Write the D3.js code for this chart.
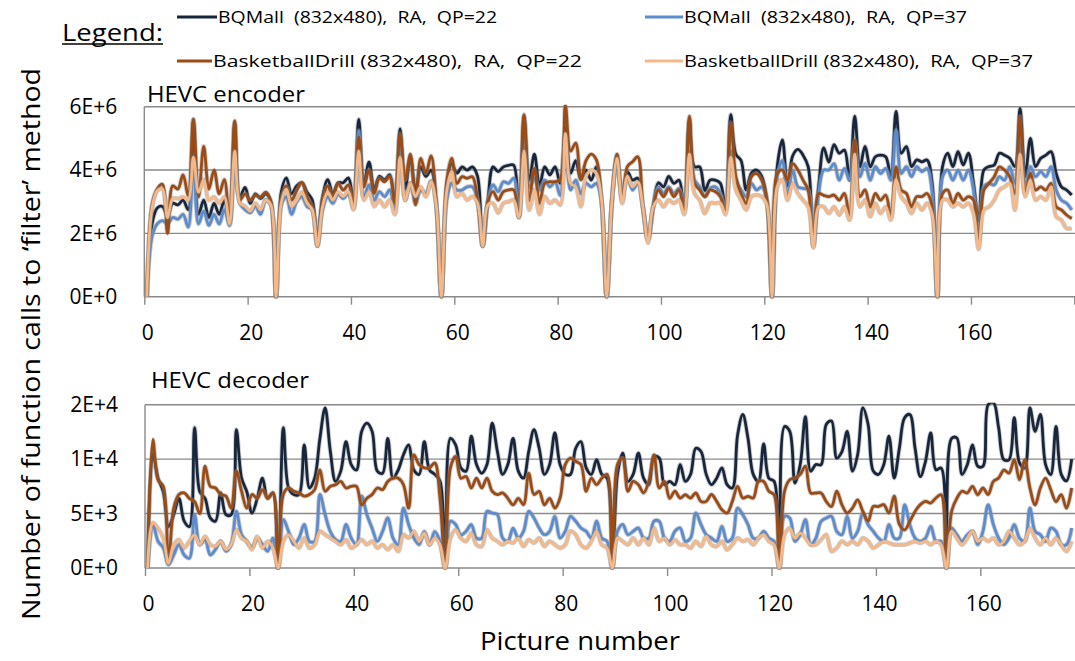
<!DOCTYPE html>
<html>
<head>
<meta charset="utf-8">
<script src="https://cdn.jsdelivr.net/npm/d3@7/dist/d3.min.js"></script>
<style>
  body { margin: 0; background: #ffffff; }
  svg { display: block; font-family: "Open Sans", sans-serif; }
</style>
</head>
<body>
<svg id="svg" width="1075" height="661"></svg>
<script>
// encoder values in millions of calls, one per picture (0..179)
const encBQMall22 = [
  0, 2.3, 2.8, 2.85, 2.55, 2.95, 2.9, 3.05, 2.75, 5.6, 2.6, 3.05, 2.5, 2.95, 2.6, 3.05, 2.4, 5.5, 3.15, 3.45,
  2.95, 3.25, 3.1, 3.25, 3.0, 0, 3.3, 3.75, 3.25, 3.5, 3.6, 3.3, 3.05, 1.9, 3.15, 3.7, 3.25, 3.6, 3.6, 3.75,
  3.05, 5.6, 3.6, 4.25, 3.4, 3.8, 3.7, 3.85, 3.05, 5.3, 3.4, 4.4, 3.35, 4.1, 3.8, 4.0, 3.0, 0, 3.4, 4.2,
  3.9, 4.1, 4.0, 4.1, 3.8, 1.6, 3.05, 4.1, 3.95, 4.1, 4.15, 4.15, 2.5, 5.7, 3.68, 4.5, 3.5, 4.1, 3.85, 4.1,
  3.58, 5.35, 3.9, 4.3, 3.7, 4.0, 3.68, 4.1, 3.05, 0, 3.0, 4.47, 3.05, 3.95, 3.68, 3.74, 2.84, 1.8, 2.84, 3.6,
  3.47, 3.8, 3.58, 3.68, 2.74, 5.6, 4.1, 4.1, 3.35, 3.68, 3.68, 3.58, 2.74, 5.75, 4.5, 4.3, 3.37, 3.9, 4.0, 3.8,
  3.05, 0, 4.1, 4.95, 3.5, 4.45, 4.65, 4.47, 4.1, 1.9, 3.47, 4.7, 4.25, 4.8, 4.53, 4.63, 3.68, 5.7, 4.1, 4.75,
  4.1, 4.42, 4.47, 4.42, 3.79, 5.85, 4.53, 4.74, 4.11, 4.32, 4.26, 4.32, 3.58, 0, 4.11, 4.53, 4.11, 4.58, 4.16, 4.53,
  3.58, 2.4, 4.0, 4.11, 4.16, 4.53, 4.47, 4.37, 4.11, 5.95, 3.79, 5.0, 4.11, 4.37, 4.47, 4.58, 3.89, 3.47, 3.37, 3.21
]
const encBQMall37 = [
  0, 1.9, 2.3, 2.4, 2.3, 2.5, 2.45, 2.6, 2.2, 4.2, 2.3, 2.7, 2.25, 2.6, 2.3, 2.75, 2.25, 4.4, 2.95, 2.75,
  2.65, 2.85, 2.6, 3.05, 2.9, 0, 2.9, 3.15, 2.6, 3.0, 3.15, 2.85, 2.75, 1.6, 2.75, 3.15, 2.95, 3.25, 3.1, 3.25,
  2.8, 5.25, 3.16, 3.53, 3.05, 3.32, 3.16, 3.37, 2.74, 4.75, 3.05, 3.58, 2.95, 3.37, 3.26, 3.65, 2.9, 0, 3.0, 3.58,
  3.37, 3.37, 3.47, 3.47, 3.05, 1.6, 3.0, 3.53, 3.32, 3.63, 3.58, 3.74, 2.53, 4.7, 3.47, 3.74, 3.37, 3.68, 3.47, 3.63,
  3.2, 4.8, 3.37, 3.68, 3.26, 3.58, 3.47, 3.58, 3.0, 0, 3.0, 4.26, 3.16, 3.79, 3.37, 3.58, 2.84, 1.8, 2.84, 3.47,
  3.26, 3.47, 3.26, 3.42, 2.74, 4.6, 3.68, 3.47, 3.16, 3.42, 3.47, 3.26, 2.8, 4.6, 3.68, 3.37, 3.16, 3.58, 3.37, 3.47,
  3.05, 0, 3.79, 4.3, 3.16, 4.0, 3.47, 3.42, 3.37, 1.6, 3.26, 4.0, 4.0, 4.2, 3.68, 4.05, 3.68, 4.85, 3.79, 4.21,
  3.68, 4.11, 3.89, 4.05, 3.68, 5.26, 3.89, 4.11, 3.79, 4.11, 3.95, 4.05, 3.3, 0, 3.79, 4.0, 3.68, 4.0, 3.68, 4.0,
  3.37, 1.7, 3.47, 3.58, 3.53, 3.79, 3.68, 4.11, 3.58, 4.84, 3.47, 4.11, 3.79, 3.95, 3.79, 4.11, 3.37, 3.05, 2.95, 2.74
]
const encBasket22 = [
  0, 2.9, 3.4, 3.55, 2.0, 3.5, 3.4, 3.85, 3.2, 5.6, 3.15, 4.75, 3.4, 4.0, 3.25, 3.7, 2.35, 5.55, 3.05, 3.25,
  3.05, 3.2, 3.15, 3.3, 3.0, 0, 3.05, 3.5, 3.05, 3.35, 3.6, 3.15, 2.85, 1.6, 3.05, 3.5, 3.16, 3.58, 3.37, 3.53,
  3.0, 5.05, 3.47, 4.0, 3.26, 3.74, 3.63, 3.79, 2.95, 5.15, 3.68, 4.5, 2.9, 4.37, 3.9, 4.45, 3.0, 0, 3.6, 4.37,
  3.58, 3.79, 3.74, 3.79, 3.05, 1.6, 3.0, 3.32, 3.05, 3.32, 3.37, 3.37, 2.53, 5.75, 3.05, 4.05, 2.95, 3.58, 3.63, 3.63,
  3.7, 6.05, 4.6, 4.85, 3.7, 4.3, 4.5, 4.32, 3.05, 0, 3.0, 4.5, 3.05, 4.11, 4.26, 4.42, 2.84, 1.8, 2.84, 3.37,
  3.16, 3.42, 3.16, 3.37, 2.74, 5.7, 3.58, 3.37, 3.16, 3.37, 3.32, 3.16, 2.74, 5.5, 3.79, 3.26, 2.95, 3.79, 3.89, 3.68,
  3.05, 0, 3.89, 4.0, 3.68, 4.2, 4.0, 3.68, 3.37, 1.6, 3.26, 3.2, 3.16, 3.21, 3.05, 3.26, 2.53, 4.95, 3.16, 3.37,
  2.84, 3.26, 3.05, 3.21, 2.53, 4.1, 3.37, 3.26, 2.84, 3.16, 3.16, 3.26, 2.84, 0, 3.26, 3.37, 2.95, 3.26, 3.05, 3.16,
  3.05, 1.7, 3.37, 3.58, 3.79, 4.1, 4.0, 3.79, 3.26, 5.7, 3.26, 3.9, 3.37, 3.47, 3.37, 3.58, 2.84, 2.74, 2.58, 2.47
]
const encBasket37 = [
  0, 2.8, 3.35, 3.4, 2.5, 3.1, 3.1, 3.15, 3.05, 4.4, 3.3, 3.7, 3.05, 3.15, 2.95, 3.15, 2.3, 4.6, 2.95, 2.85,
  2.7, 2.95, 2.75, 3.05, 2.9, 0, 2.95, 3.4, 2.85, 3.05, 3.3, 2.95, 2.75, 1.6, 2.84, 3.3, 3.05, 3.3, 3.16, 3.32,
  2.75, 4.6, 3.05, 3.32, 2.85, 3.05, 2.84, 3.05, 2.6, 4.4, 3.05, 3.58, 3.16, 3.47, 3.16, 3.63, 2.9, 0, 3.3, 3.95,
  3.16, 3.26, 3.05, 3.16, 2.95, 1.6, 2.9, 2.95, 2.65, 2.95, 3.0, 3.05, 2.5, 4.6, 2.74, 3.37, 2.6, 3.16, 2.95, 3.05,
  2.9, 5.15, 3.58, 3.47, 2.85, 3.8, 4.0, 3.89, 3.05, 0, 3.0, 4.37, 2.95, 3.8, 3.47, 3.63, 2.84, 1.7, 2.84, 3.05,
  2.84, 3.05, 2.95, 3.05, 2.6, 4.5, 3.26, 3.05, 2.63, 2.95, 2.95, 2.95, 2.6, 4.4, 3.37, 3.05, 2.74, 3.16, 3.21, 3.16,
  2.9, 0, 3.47, 3.7, 3.05, 3.58, 3.26, 3.05, 2.84, 1.55, 2.84, 2.84, 2.63, 2.84, 2.58, 2.84, 2.42, 4.5, 2.84, 3.05,
  2.53, 2.95, 2.63, 2.84, 2.42, 3.7, 3.16, 2.95, 2.63, 2.95, 2.74, 2.95, 2.6, 0, 3.05, 3.05, 2.84, 2.95, 2.84, 2.95,
  2.63, 1.5, 2.74, 2.84, 3.05, 3.37, 3.47, 3.58, 2.74, 4.5, 3.16, 3.68, 3.05, 3.16, 3.05, 3.47, 2.53, 2.42, 2.16, 2.16
]

// decoder values in thousands of calls, one per picture (0..177)
const decBQMall22 = [
  0, 10.5, 8.25, 7.0, 3.8, 4.9, 6.4, 4.3, 3.8, 12.9, 7.0, 6.4, 4.6, 4.3, 6.9, 4.9, 4.9, 12.7, 8.25, 7.0,
  5.05, 6.4, 8.25, 6.4, 6.9, 0, 12.9, 7.35, 6.75, 6.75, 11.3, 7.35, 8.25, 11.9, 14.7, 10.7, 7.95, 8.9, 11.6, 9.5,
  9.0, 12.55, 13.3, 12.55, 8.9, 8.7, 11.9, 8.25, 9.0, 10.4, 11.3, 9.0, 8.6, 11.6, 9.0, 8.6, 8.0, 0, 11.9, 11.3,
  9.2, 8.9, 12.1, 9.5, 8.7, 9.5, 13.3, 10.7, 8.6, 9.5, 11.9, 8.9, 8.25, 10.7, 12.7, 11.0, 8.6, 9.5, 12.4, 9.5,
  8.6, 8.6, 11.0, 11.6, 9.2, 8.6, 9.95, 8.6, 8.26, 0, 8.6, 10.55, 7.95, 8.6, 10.55, 8.25, 7.65, 10.25, 10.1, 7.65,
  7.95, 7.65, 9.5, 7.96, 8.6, 11.0, 10.7, 8.6, 7.65, 8.25, 9.2, 7.65, 7.35, 12.2, 14.1, 11.9, 8.6, 7.95, 11.4, 8.25,
  7.96, 0, 13.0, 12.55, 7.8, 9.5, 13.9, 8.9, 9.5, 9.49, 13.2, 13.5, 10.1, 10.7, 12.55, 8.9, 10.41, 14.7, 13.2, 8.9,
  8.6, 9.49, 12.1, 8.25, 11.02, 13.8, 14.1, 11.0, 8.4, 9.8, 12.4, 9.03, 9.18, 0, 11.9, 11.94, 8.6, 9.49, 11.3, 9.35,
  9.34, 15.0, 15.2, 12.9, 9.95, 9.95, 13.8, 9.65, 9.18, 14.7, 12.55, 14.1, 9.5, 8.57, 13.0, 8.6, 8.0, 10.0
]
const decBQMall37 = [
  0, 4.0, 2.45, 1.85, 0.3, 1.2, 2.15, 1.2, 0.9, 4.9, 2.15, 2.6, 1.2, 1.7, 2.45, 1.55, 2.15, 5.2, 3.05, 2.45,
  1.85, 2.75, 2.15, 1.55, 2.75, 0, 4.45, 3.35, 2.15, 2.75, 4.0, 2.45, 2.45, 6.75, 4.9, 3.35, 2.6, 2.45, 4.0, 2.75,
  2.15, 6.6, 4.9, 3.65, 2.45, 3.35, 4.6, 2.75, 2.15, 5.5, 4.0, 2.75, 2.15, 3.35, 2.14, 3.35, 2.45, 0, 4.3, 4.0,
  3.05, 3.37, 3.98, 2.75, 2.75, 5.2, 5.05, 4.9, 2.75, 2.45, 3.65, 2.75, 3.37, 5.2, 4.6, 3.67, 3.06, 3.37, 4.75, 2.75,
  3.37, 4.75, 4.29, 3.67, 3.37, 2.75, 4.3, 2.75, 2.45, 0, 3.37, 4.0, 3.06, 3.37, 3.67, 2.75, 2.75, 4.3, 4.29, 2.75,
  2.45, 3.37, 3.67, 2.45, 2.75, 5.05, 3.98, 3.06, 2.75, 2.45, 3.83, 2.45, 2.75, 5.5, 4.9, 3.98, 2.75, 2.75, 3.37, 2.75,
  2.45, 0, 4.75, 4.59, 2.45, 3.06, 4.45, 2.14, 2.75, 4.29, 4.59, 4.74, 3.37, 3.06, 4.75, 2.75, 3.37, 5.05, 3.98, 3.37,
  2.75, 2.45, 3.98, 2.75, 2.75, 5.8, 3.98, 2.75, 2.45, 2.75, 3.83, 2.45, 2.45, 0, 3.67, 3.06, 2.45, 3.06, 3.37, 2.14,
  3.37, 5.8, 3.98, 2.75, 2.14, 2.75, 3.98, 2.75, 2.45, 5.5, 3.37, 3.06, 2.45, 3.67, 3.37, 2.14, 2.14, 3.67
]
const decBasket22 = [
  0, 11.8, 8.1, 7.5, 0.6, 5.5, 6.75, 6.9, 6.4, 6.1, 5.0, 9.35, 7.5, 7.35, 6.75, 6.6, 5.5, 8.9, 7.05, 5.5,
  6.75, 6.4, 7.2, 6.4, 6.9, 0, 6.75, 7.35, 7.05, 6.9, 6.6, 6.75, 7.2, 9.0, 7.05, 7.5, 7.65, 7.95, 7.35, 7.5,
  7.5, 5.8, 6.4, 6.75, 7.35, 7.2, 7.95, 8.25, 8.25, 7.65, 5.5, 10.4, 9.5, 9.2, 9.2, 9.65, 6.43, 0, 9.2, 10.25,
  8.25, 8.4, 7.35, 8.25, 7.35, 8.25, 7.05, 6.75, 6.9, 6.4, 5.8, 6.4, 5.82, 8.7, 6.75, 7.04, 5.8, 6.4, 5.5, 6.43,
  9.5, 10.1, 9.8, 9.5, 7.05, 8.25, 7.65, 8.25, 8.6, 0, 9.5, 10.1, 7.05, 7.95, 7.65, 6.9, 7.95, 10.4, 7.35, 7.95,
  6.4, 7.05, 6.43, 6.73, 6.43, 6.89, 6.1, 6.12, 6.75, 6.12, 5.35, 5.05, 6.12, 7.5, 6.43, 6.58, 6.43, 7.95, 7.95, 7.05,
  6.73, 0, 7.05, 8.1, 8.26, 8.6, 9.35, 6.9, 6.89, 6.89, 6.1, 5.65, 7.05, 5.8, 5.05, 5.5, 6.25, 5.2, 4.3, 5.65,
  5.65, 5.82, 5.05, 6.6, 4.0, 3.5, 4.29, 5.2, 5.82, 6.12, 5.97, 6.43, 6.73, 0, 5.2, 6.4, 7.05, 6.89, 7.5, 6.73,
  7.35, 6.75, 7.95, 8.26, 9.0, 8.72, 9.95, 8.11, 9.95, 7.35, 5.8, 7.35, 8.25, 7.19, 6.1, 6.73, 5.5, 7.35
]
const decBasket37 = [
  0, 4.15, 3.65, 2.75, 0.45, 2.15, 2.6, 1.85, 2.45, 3.05, 2.15, 2.9, 2.14, 2.0, 2.45, 1.7, 2.14, 3.5, 2.75, 2.45,
  1.7, 2.9, 1.84, 2.45, 1.84, 0, 2.45, 3.05, 2.45, 1.84, 2.75, 1.84, 2.14, 3.37, 3.06, 2.75, 2.45, 2.14, 2.6, 1.84,
  2.14, 2.6, 2.14, 2.45, 1.84, 2.14, 1.68, 2.14, 1.53, 3.06, 2.75, 3.37, 2.45, 3.21, 2.14, 2.75, 2.14, 0, 2.75, 3.52,
  2.75, 2.45, 3.21, 2.14, 1.99, 3.52, 2.75, 2.45, 2.14, 2.45, 2.3, 2.75, 1.99, 2.6, 2.3, 2.75, 1.99, 2.45, 2.14, 1.84,
  2.14, 3.37, 3.06, 2.14, 1.84, 2.45, 3.37, 2.14, 1.84, 0, 2.75, 2.45, 2.14, 2.75, 2.14, 2.75, 2.14, 3.67, 2.45, 2.75,
  2.14, 2.6, 2.14, 2.14, 1.84, 2.45, 1.99, 2.91, 2.14, 1.99, 2.45, 1.68, 2.14, 2.75, 2.45, 2.6, 2.14, 2.75, 3.06, 2.45,
  2.14, 0, 3.06, 3.67, 2.75, 3.21, 2.75, 2.14, 2.14, 2.6, 3.06, 1.53, 1.84, 2.45, 2.14, 2.45, 2.14, 2.75, 2.45, 1.84,
  2.14, 2.45, 2.3, 2.14, 2.14, 2.14, 2.3, 2.45, 2.3, 2.45, 2.14, 2.45, 2.14, 0, 3.37, 2.75, 2.14, 2.75, 3.37, 2.45,
  2.75, 2.45, 2.75, 2.14, 2.45, 3.37, 2.75, 2.14, 2.45, 3.67, 2.75, 2.14, 2.75, 2.14, 2.75, 2.14, 1.53, 2.45
]

const seriesNames = [
  'BQMall  (832x480),  RA,  QP=22',
  'BQMall  (832x480),  RA,  QP=37',
  'BasketballDrill (832x480),  RA,  QP=22',
  'BasketballDrill (832x480),  RA,  QP=37'
]
const xTickValues = [0, 20, 40, 60, 80, 100, 120, 140, 160]
const encTickValues = [0, 2, 4, 6]
const encTickLabels = ['0E+0', '2E+6', '4E+6', '6E+6']
const decTickValues = [0, 5, 10, 15]
const decTickLabels = ['0E+0', '5E+3', '1E+4', '2E+4']

const colors = ['#17263c', '#5b8ccf', '#9c4b14', '#f5b888']
const gridColor = '#8a8a8a'

const svg = d3.select('#svg')

function drawPanel(cfg) {
  const xScale = d3.scaleLinear().domain([0, cfg.count]).range([cfg.left, 1074.3])
  const yScale = d3.scaleLinear().domain([0, cfg.yMax]).range([cfg.bottom, cfg.top])
  const g = svg.append('g')

  // gridlines
  g.selectAll('line.grid')
    .data(cfg.yTicks)
    .enter()
    .append('line')
    .attr('x1', cfg.left)
    .attr('x2', 1075)
    .attr('y1', d => yScale(d))
    .attr('y2', d => yScale(d))
    .attr('stroke', gridColor)
    .attr('stroke-width', 1.4)

  g.append('line')
    .attr('x1', cfg.left).attr('x2', cfg.left)
    .attr('y1', cfg.top).attr('y2', cfg.bottom)
    .attr('stroke', gridColor)
    .attr('stroke-width', 1.4)

  // y axis labels
  const yAxis = g.append('g')
    .attr('transform', 'translate(' + cfg.left + ',0)')
    .call(d3.axisLeft(yScale)
      .tickValues(cfg.yTicks)
      .tickSize(0)
      .tickPadding(27)
      .tickFormat((d, i) => cfg.yLabels[i]))
  yAxis.select('.domain').remove()
  yAxis.selectAll('text')
    .style('font-size', '21px')
    .style('font-family', '"Open Sans", sans-serif')
    .attr('fill', '#000')

  // x axis
  const xAxis = g.append('g')
    .attr('transform', 'translate(0,' + cfg.bottom + ')')
    .call(d3.axisBottom(xScale)
      .tickValues(cfg.xTicks)
      .tickSize(8)
      .tickPadding(20)
      .tickFormat(d => xTickValues.includes(d) ? d : ''))
  xAxis.select('.domain').remove()
  xAxis.selectAll('line').attr('stroke', gridColor).attr('stroke-width', 1.4)
  xAxis.selectAll('text')
    .attr('dx', 3)
    .style('font-size', '21px')
    .style('font-family', '"Open Sans", sans-serif')
    .attr('fill', '#000')

  // clip
  svg.append('clipPath')
    .attr('id', cfg.id)
    .append('rect')
    .attr('x', cfg.left)
    .attr('y', cfg.top - 2)
    .attr('width', 1075 - cfg.left)
    .attr('height', cfg.bottom - cfg.top + 4)

  const line = d3.line()
    .x((d, i) => xScale(i + 0.5))
    .y(d => yScale(d))
    .curve(d3.curveCatmullRom.alpha(0.5))

  const lines = g.append('g').attr('clip-path', 'url(#' + cfg.id + ')')
  cfg.series.forEach((s, k) => {
    lines.append('path')
      .attr('d', line(s))
      .attr('fill', 'none')
      .attr('stroke', '#8c8c8c')
      .attr('stroke-opacity', 0.45)
      .attr('stroke-width', 4.6)
      .attr('stroke-linejoin', 'round')
    lines.append('path')
      .attr('d', line(s))
      .attr('fill', 'none')
      .attr('stroke', colors[k])
      .attr('stroke-width', 2.8)
      .attr('stroke-linejoin', 'round')
  })

  svg.append('text')
    .attr('x', cfg.titleX)
    .attr('y', cfg.titleY)
    .attr('textLength', 158)
    .attr('lengthAdjust', 'spacingAndGlyphs')
    .style('font-size', '21px')
    .text(cfg.title)
}

drawPanel({
  id: 'clipEnc',
  title: 'HEVC encoder',
  titleX: 147, titleY: 102,
  count: 180, left: 144.3, top: 106.7, bottom: 296.7,
  yMax: 6, yTicks: encTickValues, yLabels: encTickLabels,
  xTicks: xTickValues.concat([180]),
  series: [encBQMall22, encBQMall37, encBasket22, encBasket37]
})

drawPanel({
  id: 'clipDec',
  title: 'HEVC decoder',
  titleX: 151, titleY: 388,
  count: 178, left: 145, top: 404.7, bottom: 568,
  yMax: 15, yTicks: decTickValues, yLabels: decTickLabels,
  xTicks: xTickValues,
  series: [decBQMall22, decBQMall37, decBasket22, decBasket37]
})

// axis titles
svg.append('text')
  .attr('transform', 'translate(40,344) rotate(-90)')
  .attr('text-anchor', 'middle')
  .attr('textLength', 552)
  .attr('lengthAdjust', 'spacingAndGlyphs')
  .style('font-size', '26px')
  .text('Number of function calls to \u2018filter\u2019 method')

svg.append('text')
  .attr('x', 580)
  .attr('y', 650)
  .attr('text-anchor', 'middle')
  .attr('textLength', 200)
  .attr('lengthAdjust', 'spacingAndGlyphs')
  .style('font-size', '25px')
  .text('Picture number')

// legend
svg.append('text')
  .attr('x', 62)
  .attr('y', 41)
  .attr('textLength', 101)
  .attr('lengthAdjust', 'spacingAndGlyphs')
  .style('font-size', '24px')
  .text('Legend:')
svg.append('line')
  .attr('x1', 62).attr('x2', 163)
  .attr('y1', 44).attr('y2', 44)
  .attr('stroke', '#000')
  .attr('stroke-width', 1.3)

const legendPos = [
  { lx: 177, tx: 218, y: 17, w: 279 },
  { lx: 645, tx: 684, y: 17, w: 283 },
  { lx: 177, tx: 213, y: 61, w: 369 },
  { lx: 645, tx: 684, y: 61, w: 349 }
]
seriesNames.forEach((name, k) => {
  const p = legendPos[k]
  svg.append('line')
    .attr('x1', p.lx).attr('x2', p.tx - 1)
    .attr('y1', p.y).attr('y2', p.y)
    .attr('stroke', colors[k])
    .attr('stroke-width', 2.8)
  svg.append('text')
    .attr('x', p.tx)
    .attr('y', p.y + 6)
    .attr('textLength', p.w)
    .attr('lengthAdjust', 'spacingAndGlyphs')
    .style('font-size', '17px')
    .style('white-space', 'pre')
    .text(name)
})
</script>
</body>
</html>
